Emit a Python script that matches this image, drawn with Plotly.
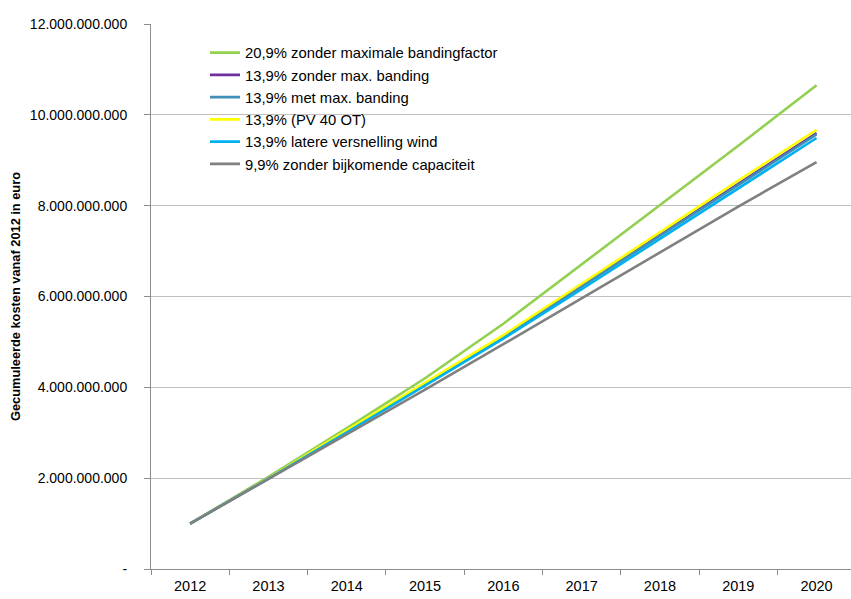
import plotly.graph_objects as go

# Years on the category axis
years = ["2012", "2013", "2014", "2015", "2016", "2017", "2018", "2019", "2020"]

# Cumulative costs from 2012 onwards (euro)
s_209_zonder_max = [1.00e9, 2.03e9, 3.10e9, 4.20e9, 5.40e9, 6.70e9, 8.00e9, 9.32e9, 10.65e9]
s_139_zonder_max = [1.00e9, 2.00e9, 3.03e9, 4.08e9, 5.12e9, 6.23e9, 7.36e9, 8.48e9, 9.60e9]
s_139_met_max = [1.00e9, 2.00e9, 3.03e9, 4.07e9, 5.11e9, 6.22e9, 7.34e9, 8.46e9, 9.57e9]
s_139_pv40 = [1.00e9, 2.00e9, 3.05e9, 4.10e9, 5.15e9, 6.28e9, 7.42e9, 8.55e9, 9.67e9]
s_139_wind = [1.00e9, 1.99e9, 3.01e9, 4.04e9, 5.07e9, 6.16e9, 7.27e9, 8.38e9, 9.49e9]
s_99_geen_cap = [1.00e9, 1.98e9, 2.96e9, 3.95e9, 4.95e9, 5.96e9, 6.98e9, 7.98e9, 8.96e9]

series_names = [
    "20,9% zonder maximale bandingfactor",
    "13,9% zonder max. banding",
    "13,9% met max. banding",
    "13,9% (PV 40 OT)",
    "13,9% latere versnelling wind",
    "9,9% zonder bijkomende capaciteit",
]
series_values = [s_209_zonder_max, s_139_zonder_max, s_139_met_max,
                 s_139_pv40, s_139_wind, s_99_geen_cap]
series_colors = ["#92D050", "#7030A0", "#3F8FB8", "#FFFF00", "#00B0F0", "#808080"]

# Y tick labels in Dutch number notation
y_tickvals = [0, 2e9, 4e9, 6e9, 8e9, 10e9, 12e9]
y_ticktext = ["-", "2.000.000.000", "4.000.000.000", "6.000.000.000",
              "8.000.000.000", "10.000.000.000", "12.000.000.000"]

FONT = "Liberation Sans, Arial, sans-serif"

fig = go.Figure()
for name, vals, col in zip(series_names, series_values, series_colors):
    fig.add_trace(go.Scatter(
        x=years, y=vals, name=name, mode="lines",
        line=dict(color=col, width=2.6),
    ))

# white panel behind the legend, hiding the gridlines there
fig.add_shape(
    type="rect", xref="paper", yref="paper",
    x0=(180 - 151) / 700, x1=(512 - 151) / 700,
    y0=(569 - 188) / 545, y1=(569 - 36) / 545,
    fillcolor="white", line=dict(width=0), layer="between",
)

fig.update_layout(
    width=851, height=599,
    margin=dict(l=151, r=0, t=24, b=30),
    paper_bgcolor="white", plot_bgcolor="white",
    font=dict(family=FONT, size=14, color="#000000"),
    showlegend=True,
    legend=dict(
        x=(205 - 151) / 700, y=0.977, xanchor="left", yanchor="top",
        bgcolor="rgba(0,0,0,0)", borderwidth=0,
        font=dict(family=FONT, size=14.8, color="#000000"),
        traceorder="normal", itemwidth=30,
    ),
    xaxis=dict(
        type="category", range=[-0.5, 8.44],
        showline=True, linecolor="#8C8C8C", linewidth=1,
        ticks="outside", tickson="boundaries", ticklen=5, tickcolor="#8C8C8C",
        ticklabelstandoff=4,
        showgrid=False, zeroline=False,
        tickfont=dict(family=FONT, size=14.5, color="#000000"),
    ),
    yaxis=dict(
        range=[0, 12e9], tickvals=y_tickvals, ticktext=y_ticktext,
        showline=True, linecolor="#8C8C8C", linewidth=1,
        ticks="outside", ticklen=6, tickcolor="#8C8C8C",
        ticklabelstandoff=14,
        showgrid=True, gridcolor="#BFBFBF", gridwidth=1, zeroline=False,
        tickfont=dict(family=FONT, size=14, color="#000000"),
        title=dict(text="<b>Gecumuleerde kosten vanaf 2012 in euro</b>",
                   font=dict(family=FONT, size=12.8, color="#000000"), standoff=6),
    ),
)

fig.write_html("out.html")
